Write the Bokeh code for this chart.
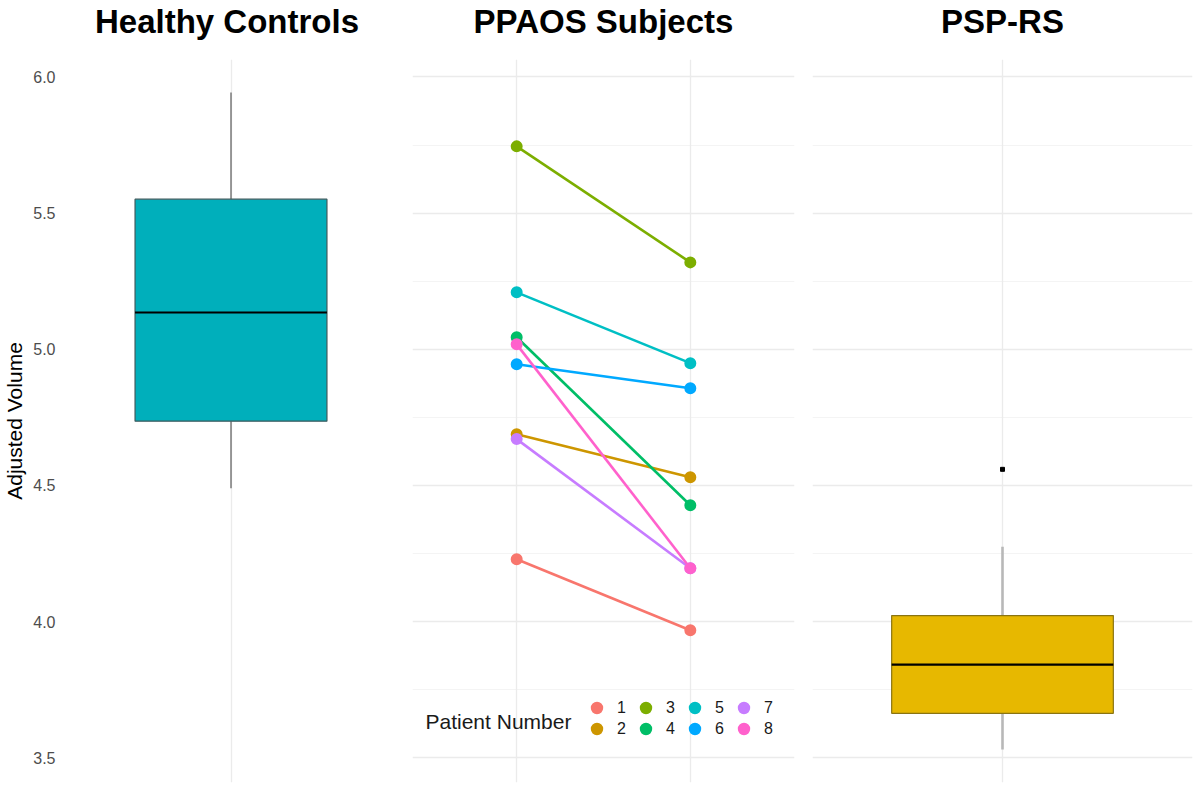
from bokeh.plotting import figure
from bokeh.layouts import row, column
from bokeh.models import Range1d, FixedTicker, Legend, LegendItem, Grid, Label
from bokeh.core.properties import value
from bokeh.embed import file_html
from bokeh.resources import INLINE

# ---------------- data ----------------
panel_titles = ["Healthy Controls", "PPAOS Subjects", "PSP-RS"]
y_ticks = [3.5, 4.0, 4.5, 5.0, 5.5, 6.0]
y_tick_labels = ["3.5", "4.0", "4.5", "5.0", "5.5", "6.0"]
y_minor = [3.75, 4.25, 4.75, 5.25, 5.75]

# Healthy controls box statistics
hc_stats = {"lower": 4.49, "q1": 4.736, "median": 5.135, "q3": 5.551, "upper": 5.943}
# PSP-RS box statistics
psp_stats = {"lower": 3.53, "q1": 3.663, "median": 3.842, "q3": 4.022, "upper": 4.275}
psp_outliers = [4.559]

# PPAOS subjects: two time points per patient
patients = [1, 2, 3, 4, 5, 6, 7, 8]
timepoints = [1, 2]
baseline = [4.229, 4.688, 5.745, 5.044, 5.209, 4.945, 4.670, 5.018]
followup = [3.968, 4.530, 5.319, 4.427, 4.949, 4.857, 4.196, 4.196]
patient_colors = ["#F8766D", "#CD9600", "#7CAE00", "#00BE67",
                  "#00BFC4", "#00A9FF", "#C77CFF", "#FF61CC"]

FONT = "Liberation Sans"
GRID_MAJOR = "#EBEBEB"
GRID_MINOR = "#F4F4F4"

# ---------------- layout constants (pixels) ----------------
HEADER_H = 59
PANEL_H = 731
BORDER_BOTTOM = 8
FRAME_H = PANEL_H - BORDER_BOTTOM
P1_LEFT, P1_W, P1_GAP = 58, 337, 17
P2_W, P2_GAP = 382, 18
P3_W, P3_RIGHT = 380, 8

Y_LO, Y_HI = 3.409, 6.064
y_range = Range1d(Y_LO, Y_HI)
PX_PER_UNIT = FRAME_H / (Y_HI - Y_LO)


def base_fig(width, x_range, left, right, with_yaxis):
    p = figure(width=width, height=PANEL_H, x_range=x_range, y_range=y_range,
               x_axis_type=None, y_axis_type="linear" if with_yaxis else None,
               output_backend="svg", toolbar_location=None,
               min_border_left=left, min_border_right=right,
               min_border_top=0, min_border_bottom=BORDER_BOTTOM)
    p.outline_line_color = None
    p.background_fill_color = "white"
    p.border_fill_color = "white"
    yg = Grid(dimension=1, ticker=FixedTicker(ticks=y_ticks, minor_ticks=y_minor),
              grid_line_color=GRID_MAJOR, grid_line_width=1.3,
              minor_grid_line_color=GRID_MINOR, minor_grid_line_width=1.0)
    p.add_layout(yg, "center")
    if with_yaxis:
        p.ygrid.visible = False
        ax = p.yaxis[0]
        ax.ticker = FixedTicker(ticks=y_ticks)
        ax.major_label_overrides = dict(zip(y_ticks, y_tick_labels))
        ax.major_tick_line_color = None
        ax.minor_tick_line_color = None
        ax.axis_line_color = None
        ax.major_label_text_font = FONT
        ax.major_label_text_font_size = "16px"
        ax.major_label_text_color = "#4D4D4D"
        ax.major_label_standoff = 5
        ax.axis_label = "Adjusted Volume"
        ax.axis_label_text_font = FONT
        ax.axis_label_text_font_size = "21px"
        ax.axis_label_text_font_style = "normal"
        ax.axis_label_text_color = "black"
        ax.axis_label_standoff = 4
    return p


def draw_box(p, stats, fill, edge, whisker_color, whisker_width):
    x = [1]
    p.segment(x0=x, x1=x, y0=[stats["q3"]], y1=[stats["upper"]],
              line_color=whisker_color, line_width=whisker_width)
    p.segment(x0=x, x1=x, y0=[stats["lower"]], y1=[stats["q1"]],
              line_color=whisker_color, line_width=whisker_width)
    p.vbar(x=x, width=0.7, bottom=[stats["q1"]], top=[stats["q3"]],
           fill_color=fill, line_color=edge, line_width=1.2)
    p.hbar(y=[stats["median"]], left=[1 - 0.35], right=[1 + 0.35], height=0.0,
           line_color="black", line_width=2.2)


# ---------------- panel 1 ----------------
p1 = base_fig(P1_LEFT + P1_W + P1_GAP, Range1d(0.4, 1.6), P1_LEFT, P1_GAP, True)
p1.add_layout(Grid(dimension=0, ticker=FixedTicker(ticks=[1]),
                   grid_line_color=GRID_MAJOR, grid_line_width=1.3), "center")
draw_box(p1, hc_stats, "#00AFBB", "#3f5a5d", "#5a5a5a", 1.2)

# ---------------- panel 2 ----------------
x2 = Range1d(0.4, 2.6)
p2 = base_fig(P2_W + P2_GAP, x2, 0, P2_GAP, False)
p2.add_layout(Grid(dimension=0, ticker=FixedTicker(ticks=timepoints),
                   grid_line_color=GRID_MAJOR, grid_line_width=1.3), "center")
for i, pat in enumerate(patients):
    p2.line(x=timepoints, y=[baseline[i], followup[i]],
            line_color=patient_colors[i], line_width=2.6)
items = []
for i, pat in enumerate(patients):
    # small marker with a thick outline: looks the same in the plot and in
    # the legend (whose marker size is 0.4 x the glyph box)
    r = p2.scatter(x=timepoints, y=[baseline[i], followup[i]], size=8,
                   fill_color=patient_colors[i], line_color=patient_colors[i],
                   line_width=4)
    items.append(LegendItem(label=str(pat), renderers=[r]))

legend = Legend(items=items, nrows=2, orientation="vertical", location=(174, 43),
                background_fill_alpha=0, border_line_color=None,
                padding=0, spacing=0, glyph_width=21, glyph_height=21,
                label_height=21, label_standoff=10, label_width=18, margin=0,
                label_text_font=FONT, label_text_font_size="16px",
                label_text_color="#1a1a1a")
p2.add_layout(legend, "center")
px2 = P2_W / (x2.end - x2.start)
p2.add_layout(Label(x=x2.start + 13 / px2, y=Y_LO + (782 - HEADER_H - 662) / PX_PER_UNIT,
                    text="Patient Number", text_align="left",
                    text_baseline="middle", text_font=FONT,
                    text_font_size="21px", text_color="#1a1a1a"))

# ---------------- panel 3 ----------------
p3 = base_fig(P3_W + P3_RIGHT, Range1d(0.4, 1.6), 0, P3_RIGHT, False)
p3.add_layout(Grid(dimension=0, ticker=FixedTicker(ticks=[1]),
                   grid_line_color=GRID_MAJOR, grid_line_width=1.3), "center")
draw_box(p3, psp_stats, "#E7B800", "#8a7412", "#b8b8b8", 2.6)
p3.scatter(x=[1] * len(psp_outliers), y=psp_outliers, marker="square", size=4,
           fill_color="black", line_color="black")

# ---------------- header with strip titles ----------------
total_w = P1_LEFT + P1_W + P1_GAP + P2_W + P2_GAP + P3_W + P3_RIGHT
p1_c = P1_LEFT + P1_W / 2
p2_c = P1_LEFT + P1_W + P1_GAP + P2_W / 2
p3_c = P1_LEFT + P1_W + P1_GAP + P2_W + P2_GAP + P3_W / 2
header = figure(width=total_w, height=HEADER_H, x_range=Range1d(0, total_w),
                y_range=Range1d(0, HEADER_H), x_axis_type=None, y_axis_type=None,
                output_backend="svg", toolbar_location=None,
                min_border=0)
header.outline_line_color = None
header.grid.visible = False
header.text(x=[p1_c, p2_c, p3_c], y=[HEADER_H - 21] * 3, text=panel_titles,
            text_align="center", text_baseline="alphabetic",
            text_font=value(FONT), text_font_size="33px", text_font_style="bold",
            text_color="black")

layout = column(header, row(p1, p2, p3, spacing=0), spacing=0)
open("out.html", "w").write(file_html(layout, INLINE))
